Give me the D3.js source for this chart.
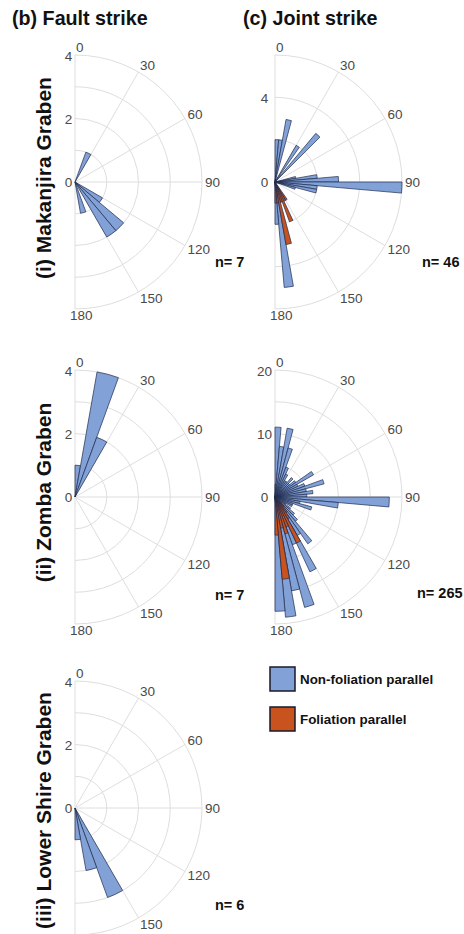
<!DOCTYPE html>
<html><head><meta charset="utf-8">
<script src="https://cdn.jsdelivr.net/npm/d3@7"></script>
<style>
body{margin:0;background:#fff;}
svg text{font-family:"Liberation Sans", Arial, Helvetica, sans-serif;}
</style></head><body>
<svg id="fig" width="464" height="934"></svg>
<script>
// Strike bins (degrees, start of each bin)
const faultBinStarts = d3.range(0, 180, 10);
const jointBinStarts = d3.range(0, 180, 5);

// Fault strike counts, 10° bins
const makanjiraFault   = [0,0,1,0,0,0,0,0,0,0,0,0,1,2,2,0,1,0];
const zombaFault       = [1,4,2,0,0,0,0,0,0,0,0,0,0,0,0,0,0,0];
const lowerShireFault  = [0,0,0,0,0,0,0,0,0,0,0,0,0,0,0,3,2,1];

// Joint strike counts, 5° bins
const makanjiraJointNonFol = [2,2,3,0,0,0,2,0,3,0,0,0,0,0,0,1,2,3,6,2,2,1,0,0,0,0,0,0,0,0,0,0,0,0,5,2];
const makanjiraJointFol    = [0,0,0,0,0,0,0,0,0,0,0,0,0,0,0,0,0,0,0,0,0,0,0,0,0,0,0,0,0,1,1,2,1,3,1,1];
const zombaJointNonFol = [11,8,11,8,5,4,3,3,4,3,4,7,4,5,8,5,6,5,18,10,4,6,3,3,2,3,4,5,9,7,13,8,18,15,19,18];
const zombaJointFol    = [2,0,0,0,0,0,0,0,0,0,0,0,0,0,0,0,0,0,0,0,0,0,0,0,0,0,1,2,3,4,8,5,6,5,13,6];

// Axis ticks
const angleTicks = [0, 30, 60, 90, 120, 150, 180];
const faultRings = [1, 2, 3, 4];
const faultRLabels = [0, 2, 4];
const makanjiraJointRings = [2, 4, 6];
const makanjiraJointRLabels = [0, 4];
const zombaJointRings = [5, 10, 15, 20];
const zombaJointRLabels = [0, 10, 20];

// Counts and labels
const faultCounts = [7, 7, 6];
const jointCounts = [46, 265];
const columnTitles = ["(b) Fault strike", "(c) Joint strike"];
const rowTitles = ["(i) Makanjira Graben", "(ii) Zomba Graben", "(iii) Lower Shire Graben"];
const legendLabels = ["Non-foliation parallel", "Foliation parallel"];

const BLUE = "#82a1d7", ORANGE = "#c8531e", EDGE = "#1f2b4d";
const GRID = "#dedede", TICK = "#4a4a4a";
const R = 127;
const H = 934;

const svg = d3.select("#fig");

function rose(cx, cy, rMax, rings, rLabels, rLabelDx, binStarts, width, series, nText) {
  const g = svg.append("g").attr("transform", `translate(${cx},${cy})`);
  const r = d3.scaleLinear().domain([0, rMax]).range([0, R]);
  const rad = d => d * Math.PI / 180;

  // rings
  rings.forEach(t => {
    const p = d3.path();
    p.moveTo(0, -r(t));
    p.arc(0, 0, r(t), -Math.PI / 2, Math.PI / 2);
    g.append("path").attr("d", p.toString()).attr("fill", "none")
      .attr("stroke", GRID).attr("stroke-width", 1);
  });
  // spokes
  g.append("line").attr("x1", 0).attr("y1", -R).attr("x2", 0).attr("y2", R)
    .attr("stroke", GRID).attr("stroke-width", 1);
  angleTicks.filter(a => a > 0 && a < 180).forEach(a => {
    g.append("line").attr("x1", 0).attr("y1", 0)
      .attr("x2", R * Math.sin(rad(a))).attr("y2", -R * Math.cos(rad(a)))
      .attr("stroke", GRID).attr("stroke-width", 1);
  });

  // bars
  const arc = d3.arc().innerRadius(0);
  series.forEach(s => {
    g.append("g").selectAll("path")
      .data(binStarts.map((b, i) => ({b, v: s.values[i]})).filter(d => d.v > 0))
      .join("path")
      .attr("d", d => arc({outerRadius: r(d.v), startAngle: rad(d.b), endAngle: rad(d.b + width)}))
      .attr("fill", s.color).attr("stroke", EDGE).attr("stroke-width", 0.7)
      .attr("stroke-linejoin", "round");
  });

  // angle labels, placed just outside the outer ring
  angleTicks.forEach(a => {
    let x, y;
    if (a === 0) { x = 1; y = -R - 8; }
    else if (a === 180) { x = -5; y = R + 6; }
    else {
      x = 130 * Math.sin(rad(a));
      y = -130 * Math.cos(rad(a)) - 5 * Math.cos(rad(a));
    }
    if (cy + y > H - 6) return;
    g.append("text").attr("x", x).attr("y", y)
      .attr("text-anchor", "start").attr("dominant-baseline", "central")
      .attr("font-size", 13.5).attr("fill", TICK).text(a);
  });
  // radial labels
  rLabels.forEach(t => {
    g.append("text").attr("x", rLabelDx).attr("y", -r(t) + (t === 0 ? 0 : 1))
      .attr("text-anchor", "middle").attr("dominant-baseline", "central")
      .attr("font-size", 13.5).attr("fill", TICK).text(t);
  });
  // sample count
  g.append("text").attr("x", nText.x).attr("y", nText.y)
    .attr("font-size", 14.5).attr("font-weight", "bold").attr("fill", "#111")
    .text("n= " + nText.n);
}

const blue = v => ({values: v, color: BLUE});
const orange = v => ({values: v, color: ORANGE});

rose(75, 182, 4, faultRings, faultRLabels, -6.5, faultBinStarts, 10,
     [blue(makanjiraFault)], {x: 140, y: 85, n: faultCounts[0]});
rose(75, 497, 4, faultRings, faultRLabels, -6.5, faultBinStarts, 10,
     [blue(zombaFault)], {x: 140, y: 103, n: faultCounts[1]});
rose(75, 808, 4, faultRings, faultRLabels, -6.5, faultBinStarts, 10,
     [blue(lowerShireFault)], {x: 140, y: 102, n: faultCounts[2]});
rose(275, 182, 6, makanjiraJointRings, makanjiraJointRLabels, -10.5, jointBinStarts, 5,
     [blue(makanjiraJointNonFol), orange(makanjiraJointFol)], {x: 147, y: 85, n: jointCounts[0]});
rose(275, 497, 20, zombaJointRings, zombaJointRLabels, -10.5, jointBinStarts, 5,
     [blue(zombaJointNonFol), orange(zombaJointFol)], {x: 142, y: 101, n: jointCounts[1]});

// column titles
svg.selectAll(".coltitle").data(columnTitles).join("text")
  .attr("x", (d, i) => i === 0 ? 12 : 243).attr("y", 25)
  .attr("font-size", 19.7).attr("font-weight", "bold").attr("fill", "#111").text(d => d);

// row titles (rotated)
const rowCenters = [178, 492.5, 810.5];
rowTitles.forEach((t, i) => {
  svg.append("text").attr("transform", `translate(51,${rowCenters[i]}) rotate(-90)`)
    .attr("text-anchor", "middle").attr("font-size", 21).attr("font-weight", "bold")
    .attr("fill", "#111").text(t);
});

// legend
const legend = svg.append("g").attr("transform", "translate(270,667)");
legendLabels.forEach((t, i) => {
  legend.append("rect").attr("x", 0).attr("y", i * 40).attr("width", 25).attr("height", 24)
    .attr("fill", i === 0 ? BLUE : ORANGE).attr("stroke", "#1a1a2a").attr("stroke-width", 1.5);
  legend.append("text").attr("x", 30).attr("y", i * 40 + 12).attr("dominant-baseline", "central")
    .attr("font-size", 13.4).attr("font-weight", "bold").attr("fill", "#111").text(t);
});
</script>
</body></html>
